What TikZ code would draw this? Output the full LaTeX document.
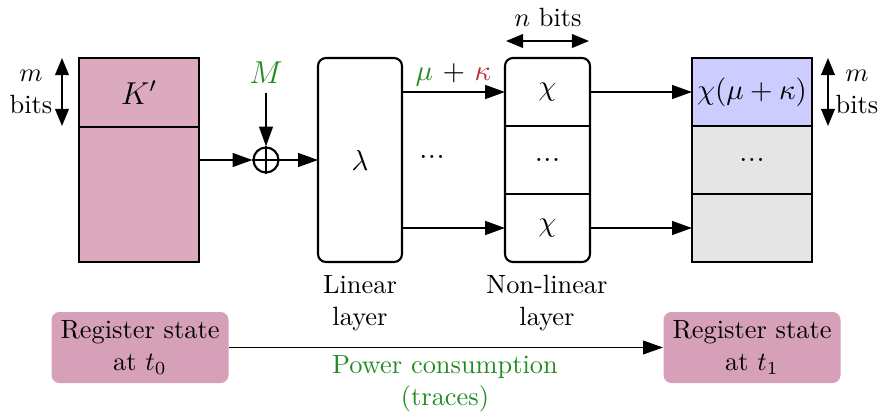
\documentclass[tikz,border=0pt]{standalone}
\usetikzlibrary{arrows.meta}
\definecolor{kcol}{RGB}{220,170,190}
\definecolor{regcol}{RGB}{214,160,184}
\definecolor{mgreen}{RGB}{34,139,34}
\definecolor{kred}{RGB}{190,40,60}
\definecolor{lav}{RGB}{204,204,255}
\definecolor{lgray}{RGB}{229,229,229}
\newcommand\pxu{0.379pt}
\newcommand\midsize{\fontsize{10.95}{13.6}\selectfont}
\begin{document}
\begin{tikzpicture}[x=0.379pt,y=-0.379pt,
  bw/.style={minimum width=#1*\pxu},
  bh/.style={minimum height=#1*\pxu},
  cell/.style={draw, line width=0.8pt, inner sep=0pt, outer sep=0pt},
  plain/.style={inner sep=0pt, outer sep=0pt},
  arr/.style={-{Triangle[length=7.5pt,width=5.2pt]}, line width=0.7pt},
  darr/.style={{Triangle[length=6.5pt,width=5.2pt]}-{Triangle[length=6.5pt,width=5.2pt]}, line width=0.7pt},
  reg/.style={fill=regcol, rounded corners=3pt, inner sep=0pt, align=center, bw=177, bh=71},
  lbl/.style={align=center, inner sep=0pt}]
\useasboundingbox (0,0) rectangle (882,418);

% K' register
\node[cell, fill=kcol, bw=120, bh=69] (kt) at (139,92.5) {\large $K'$};
\node[cell, fill=kcol, bw=120, bh=135, anchor=north] (kb) at (kt.south) {};
\coordinate (ma1) at (62,58);
\coordinate (ma2) at (62,126);
\draw[darr] (ma1) -- (ma2);
\node[lbl] (mlab) at (31,92) {$m$\\bits};

% XOR and M
\node[draw, circle, line width=0.8pt, minimum size=25*\pxu, inner sep=0pt] (xor) at (266,160) {};
\draw[line width=0.8pt] (xor.north) -- (xor.south) (xor.west) -- (xor.east);
\node[text=mgreen] (M) at (266,73) {\large $M$};
\draw[arr] (M) -- (xor.north);

% lambda
\node[draw, line width=0.8pt, rounded corners=3pt, inner sep=0pt, outer sep=0pt, bw=84, bh=204] (lam) at (360,160) {\midsize $\lambda$};
\draw[arr] (xor -| kb.east) -- (xor.west);
\draw[arr] (xor.east) -- (xor.east -| lam.west);
\node[plain] (d1) at (432,157) {\large ...};

% chi column
\node[plain, bw=85, bh=68] (c1) at (547.5,92) {\midsize $\chi$};
\node[plain, bw=85, bh=68] (c2) at (547.5,160) {\large ...};
\node[plain, bw=85, bh=68] (c3) at (547.5,228) {\midsize $\chi$};
\draw[line width=0.8pt, rounded corners=3pt] (c1.north west) rectangle (c3.south east);
\draw[line width=0.8pt] (c2.north west) -- (c2.north east) (c2.south west) -- (c2.south east);
\coordinate (na1) at (506,41);
\coordinate (na2) at (589,41);
\draw[darr] (na1) -- (na2);
\node[lbl] (nlab) at (548,17) {$n$ bits};

\draw[arr, line width=0.8pt] (c1.west -| lam.east) -- node[above=2pt, lbl] (mk) {\midsize {\color{mgreen}$\mu$} + {\color{kred}$\kappa$}} (c1.west);
\draw[arr, line width=0.8pt] (c3.west -| lam.east) -- (c3.west);

% right register
\node[cell, fill=lav, bw=120, bh=68] (r1) at (752,92) {\midsize $\chi(\mu+\kappa)$};
\node[cell, fill=lgray, bw=120, bh=68] (r2) at (752,160) {\large ...};
\node[cell, fill=lgray, bw=120, bh=68] (r3) at (752,228) {};
\draw[arr, line width=0.6pt] (c1.east) -- (r1.west);
\draw[arr, line width=0.6pt] (c3.east) -- (r3.west);
\coordinate (rb1) at (828,58);
\coordinate (rb2) at (828,126);
\draw[darr] (rb1) -- (rb2);
\node[lbl] (mlab2) at (857,92) {$m$\\bits};

% layer labels
\node[lbl] (ll) at (360,303) {Linear\\layer};
\node[lbl] (nl) at (547,303) {Non-linear\\layer};

% bottom
\node[reg] (s0) at (140,347.5) {Register state\\at $t_0$};
\node[reg] (s1) at (752,347.5) {Register state\\at $t_1$};
\draw[arr, line width=0.45pt] (s0.east) -- (s1.west);
\node[lbl, text=mgreen] (pc) at (445,384) {Power consumption\\(traces)};
\end{tikzpicture}
\end{document}
